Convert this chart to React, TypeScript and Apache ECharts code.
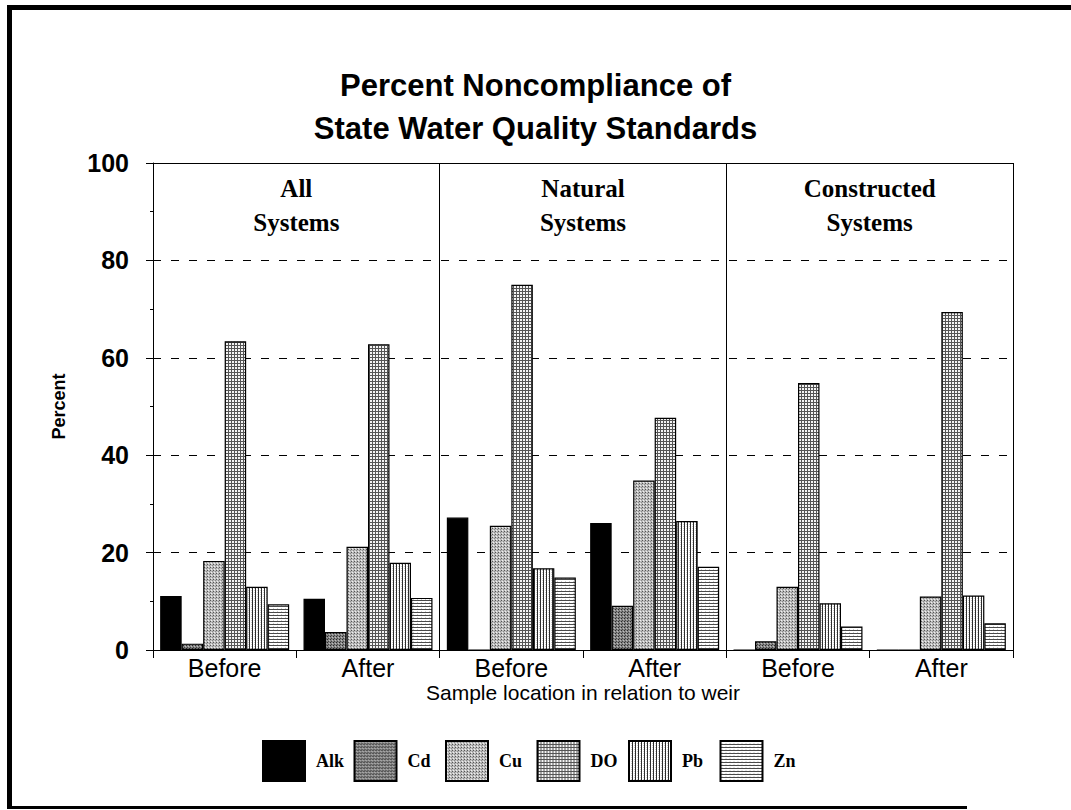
import React, { useEffect, useRef } from "react";
import * as echarts from "echarts";

const TITLE = "Percent Noncompliance of\nState Water Quality Standards";
const CATEGORIES = ["Before", "After", "Before", "After", "Before", "After"];
const PANELS = ["All\nSystems", "Natural\nSystems", "Constructed\nSystems"];
const X_NAME = "Sample location in relation to weir";
const Y_NAME = "Percent";
const SERIES_NAMES = ["Alk", "Cd", "Cu", "DO", "Pb", "Zn"];

const ALK = [11.1, 10.5, 27.2, 26.1, 0, 0];
const CD = [1.3, 3.7, 0, 9.1, 1.8, 0];
const CU = [18.3, 21.2, 25.5, 34.8, 13.0, 11.0];
const DO = [63.4, 62.8, 75.0, 47.7, 54.8, 69.4];
const PB = [13.0, 17.9, 16.8, 26.5, 9.6, 11.2];
const ZN = [9.4, 10.7, 14.9, 17.1, 4.8, 5.5];

const VALUES = [ALK, CD, CU, DO, PB, ZN];

const SANS = '"Liberation Sans", Arial, sans-serif';
const SERIF = '"Liberation Serif", "Times New Roman", serif';

type Dot = [number, number, string];

function makeTile(w: number, h: number, base: string, dots: Dot[]) {
  const c = document.createElement("canvas");
  c.width = w;
  c.height = h;
  const ctx = c.getContext("2d")!;
  ctx.fillStyle = base;
  ctx.fillRect(0, 0, w, h);
  dots.forEach(([x, y, col]) => {
    ctx.fillStyle = col;
    ctx.fillRect(x, y, 1, 1);
  });
  return { image: c.toDataURL(), repeat: "repeat", imageWidth: w, imageHeight: h } as any;
}

function fills() {
  const cd = makeTile(3, 3, "#858585", [
    [0, 0, "#2a2a2a"],
    [1, 2, "#444"],
    [2, 1, "#bdbdbd"],
  ]);
  const cu = makeTile(3, 3, "#bdbdbd", [
    [0, 0, "#555"],
    [2, 1, "#8a8a8a"],
    [1, 2, "#f0f0f0"],
  ]);
  const doDots: Dot[] = [];
  for (let i = 0; i < 3; i++) {
    doDots.push([i, 0, "#555"]);
    doDots.push([0, i, "#555"]);
  }
  const dof = makeTile(3, 3, "#f4f4f4", doDots);
  const pbDots: Dot[] = [];
  for (let i = 0; i < 4; i++) {
    pbDots.push([0, i, "#2e2e2e"]);
    if (i % 2 === 0) pbDots.push([2, i, "#d0d0d0"]);
  }
  const pb = makeTile(3, 4, "#ffffff", pbDots);
  const znDots: Dot[] = [];
  for (let i = 0; i < 4; i++) {
    znDots.push([i, 0, "#4a4a4a"]);
  }
  znDots.push([1, 2, "#cfcfcf"]);
  const zn = makeTile(4, 3, "#ffffff", znDots);
  return ["#000000", cd, cu, dof, pb, zn];
}

export default function App() {
  const ref = useRef<HTMLDivElement>(null);
  useEffect(() => {
    if (!ref.current) return;
    const chart = echarts.init(ref.current, null, { renderer: "svg" });
    const F = fills();
    const option: any = {
      animation: false,
      backgroundColor: "#ffffff",
      title: {
        text: TITLE,
        left: "center",
        top: 59,
        textStyle: {
          fontFamily: SANS,
          fontWeight: "bold",
          fontSize: 31,
          lineHeight: 43,
          color: "#000",
        },
      },
      grid: { left: 153, right: 58, top: 163, bottom: 160, containLabel: false },
      legend: {
        left: 262,
        top: 740,
        padding: 0,
        itemWidth: 42,
        itemHeight: 40,
        itemGap: -0.5,
        icon: "rect",
        data: SERIES_NAMES,
        textStyle: {
          fontFamily: SERIF,
          fontWeight: "bold",
          fontSize: 18,
          color: "#000",
          width: 38,
          padding: [0, 0, 0, 6],
          backgroundColor: "transparent",
        },
      },
      xAxis: [
        {
          type: "category",
          data: CATEGORIES,
          position: "bottom",
          axisLine: { show: true, lineStyle: { color: "#000", width: 1 } },
          axisTick: { show: true, length: 8, lineStyle: { color: "#000" } },
          axisLabel: { interval: 0, fontFamily: SANS, fontSize: 25, lineHeight: 26, color: "#000", margin: 5 },
          name: X_NAME,
          nameLocation: "middle",
          nameGap: 31,
          nameMoveOverlap: false,
          nameTextStyle: { fontFamily: SANS, fontSize: 21, lineHeight: 22, color: "#000" },
        },
        {
          type: "category",
          data: PANELS,
          position: "top",
          axisLine: { show: true, lineStyle: { color: "#000", width: 1 } },
          axisTick: { show: false },
          axisLabel: {
            interval: 0,
            inside: true,
            margin: 8,
            fontFamily: SERIF,
            fontWeight: "bold",
            fontSize: 25,
            lineHeight: 34,
            color: "#000",
          },
          splitLine: { show: true, lineStyle: { color: "#000", width: 1 } },
        },
      ],
      yAxis: {
        type: "value",
        min: 0,
        max: 100,
        interval: 20,
        axisLine: { show: true, lineStyle: { color: "#000", width: 1 } },
        axisTick: { show: true, length: 7, lineStyle: { color: "#000" } },
        minorTick: { show: true, splitNumber: 2, length: 3, lineStyle: { color: "#000" } },
        axisLabel: { fontFamily: SANS, fontWeight: "bold", fontSize: 25, color: "#000", margin: 24 },
        splitLine: { show: true, lineStyle: { color: "#000", type: [8, 10], width: 1 } },
        name: Y_NAME,
        nameLocation: "middle",
        nameGap: 85,
        nameMoveOverlap: false,
        nameTextStyle: { fontFamily: SANS, fontWeight: "bold", fontSize: 18, color: "#000" },
      },
      series: SERIES_NAMES.map((name, i) => ({
        name,
        type: "bar",
        xAxisIndex: 0,
        yAxisIndex: 0,
        data: VALUES[i],
        barGap: "0%",
        barCategoryGap: "10%",
        itemStyle: { color: F[i], borderColor: "#000", borderWidth: 1.2 },
      })),
      graphic: [
        { type: "rect", shape: { x: 8, y: 5, width: 1063, height: 5 }, style: { fill: "#000" } },
        { type: "rect", shape: { x: 7, y: 5, width: 5, height: 804 }, style: { fill: "#000" } },
        { type: "rect", shape: { x: 7, y: 806, width: 960, height: 3 }, style: { fill: "#000" } },
      ],
    };
    chart.setOption(option);
    return () => chart.dispose();
  }, []);
  return (
    <div
      ref={ref}
      style={{ position: "absolute", left: 0, top: 0, width: 1071, height: 810 }}
    />
  );
}
